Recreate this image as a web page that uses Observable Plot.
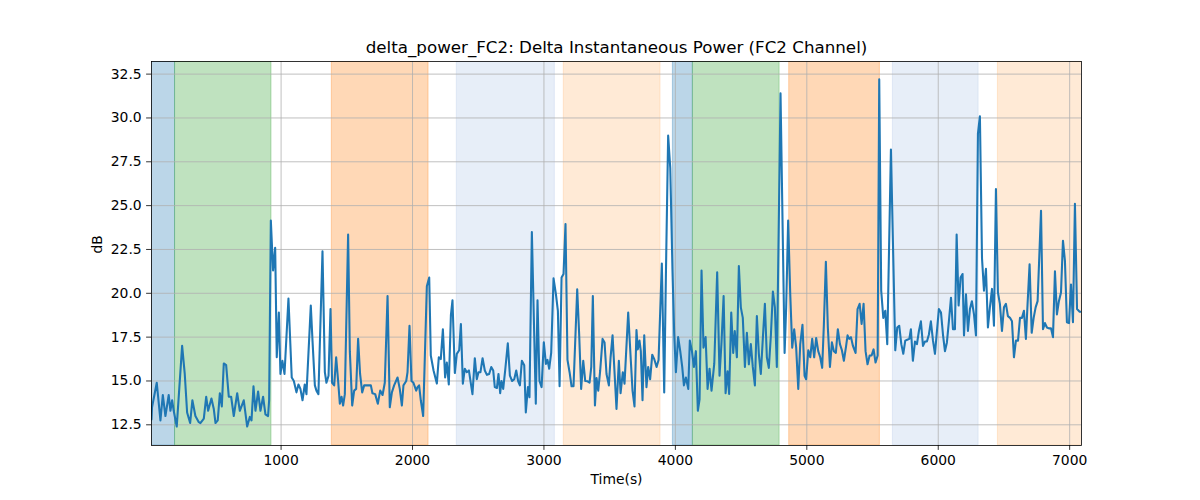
<!DOCTYPE html>
<html>
<head>
<meta charset="utf-8">
<script src="https://cdn.jsdelivr.net/npm/d3@7"></script>
<script src="https://cdn.jsdelivr.net/npm/@observablehq/plot@0.6"></script>
<style>
  html, body { margin: 0; padding: 0; background: white; }
  #chart { width: 1200px; height: 500px; }
</style>
</head>
<body>
<div id="chart"></div>
<script>
const titleText = "delta_power_FC2: Delta Instantaneous Power (FC2 Channel)";
const xLabel = "Time(s)";
const yLabel = "dB";
const xTicks = [1000, 2000, 3000, 4000, 5000, 6000, 7000];
const yTicks = [12.5, 15.0, 17.5, 20.0, 22.5, 25.0, 27.5, 30.0, 32.5];

const spanStarts = [0, 193, 1386, 2337, 3151, 3981, 4133, 4866, 5655, 6454];
const spanEnds   = [193, 927, 2122, 3083, 3887, 4133, 4793, 5556, 6307, 7100];
const spanColors = ["#1f77b4", "#2ca02c", "#ff7f0e", "#aec7e8", "#ffbb78",
                    "#1f77b4", "#2ca02c", "#ff7f0e", "#aec7e8", "#ffbb78"];

const times = [
  14, 18, 54, 82, 100, 120, 145, 158, 171, 183, 206, 247, 267, 285, 308, 325, 348, 374, 386, 412,
  430, 445, 470, 488, 501, 518, 534, 549, 564, 582, 602, 620, 640, 666, 686, 716, 742, 762, 775, 790,
  805, 825, 843, 863, 881, 901,
  909, 922, 939, 955, 967, 983, 995, 1010, 1026, 1056, 1081, 1097, 1117, 1132, 1147, 1163, 1180, 1193,
  1226, 1239, 1257, 1269, 1284, 1315, 1333, 1345, 1361, 1376, 1388, 1404, 1419, 1434, 1447, 1460, 1472,
  1485, 1510, 1523, 1541, 1556, 1571, 1586, 1601, 1617, 1632, 1657, 1683, 1695, 1716, 1736, 1754,
  1772, 1789, 1810, 1827, 1843, 1860, 1886, 1903, 1919, 1931, 1952, 1962, 1977, 1992, 2007, 2028, 2038,
  2050, 2063, 2081, 2109, 2127, 2139, 2160, 2185, 2200, 2215, 2231, 2248, 2261, 2276, 2292, 2304, 2322,
  2337, 2355, 2368, 2383, 2398, 2413, 2429, 2444, 2456, 2474, 2489, 2502, 2517, 2533, 2550, 2566, 2583,
  2599, 2614, 2626, 2642, 2654, 2667,
  2677, 2690, 2705, 2725, 2741, 2758, 2774, 2789, 2804, 2817, 2832, 2850, 2862, 2878, 2890, 2908, 2938,
  2951, 2966, 2982, 2999, 3015, 3027, 3040, 3055, 3073, 3091, 3106, 3119, 3134, 3149, 3164, 3179, 3195,
  3210, 3225, 3253, 3268, 3283, 3299, 3314, 3332, 3347, 3360, 3372, 3388, 3400, 3413, 3428, 3446, 3461,
  3476, 3494, 3507, 3522,
  3552, 3570, 3583, 3600, 3613, 3641, 3661, 3674, 3689, 3704, 3714, 3727, 3737, 3750, 3763, 3780, 3793,
  3808, 3824, 3839, 3857, 3872, 3897, 3915, 3928, 3945, 3961, 3978, 3991, 4004, 4021, 4037, 4052, 4065,
  4080, 4098, 4110, 4126, 4141, 4156, 4171, 4184, 4199, 4214, 4230, 4245, 4260, 4275, 4296, 4318, 4336,
  4351, 4367, 4382, 4397, 4409,
  4425, 4440, 4452, 4468, 4483, 4498, 4513, 4529, 4544, 4559, 4574, 4589, 4605, 4620, 4635, 4650, 4666,
  4681, 4696, 4711, 4727, 4742, 4757, 4772, 4800, 4831, 4843, 4858, 4874, 4889, 4904, 4919, 4935, 4950,
  4967, 4983, 4995, 5011, 5026, 5041, 5056, 5071, 5087, 5102, 5117, 5130, 5145, 5160, 5176, 5191, 5206,
  5221, 5236, 5252, 5267, 5282,
  5298, 5310, 5323, 5336, 5351, 5371, 5386, 5402, 5417, 5432, 5447, 5462, 5478, 5493, 5508, 5523, 5539,
  5551, 5566, 5582, 5597, 5612, 5640, 5673, 5688, 5703, 5719, 5734, 5749, 5764, 5780, 5792, 5807, 5823,
  5838, 5853, 5868, 5884, 5899, 5914, 5929, 5944, 5960, 5975, 5990, 6005, 6021, 6036, 6051, 6066, 6081,
  6097, 6112, 6127, 6140, 6155, 6170,
  6185, 6196, 6211, 6226, 6241, 6256, 6272, 6287, 6302, 6317, 6333, 6348, 6363, 6378, 6393, 6409, 6424,
  6439, 6454, 6469, 6485, 6500, 6515, 6530, 6546, 6561, 6576, 6591, 6607, 6622, 6637, 6652, 6667, 6680,
  6695, 6711, 6726, 6741, 6756, 6782, 6797, 6812, 6827, 6842, 6858, 6873, 6888, 6903, 6918, 6934, 6949,
  6964, 6979, 6995, 7010, 7025, 7040, 7056, 7076, 7090
];

const values = [
  12.8, 13.5, 14.9, 12.75, 14.2, 13.0, 14.2, 13.3, 13.9, 13.3, 12.4, 17.0, 15.4, 13.2, 12.6, 13.9, 13.0, 12.65, 12.6, 12.85,
  14.1, 13.3, 14.0, 13.4, 12.6, 12.75, 14.3, 13.55, 16.0, 15.9, 14.1, 14.1, 13.0, 14.3, 13.3, 13.9, 12.4, 12.95, 12.75, 14.7,
  13.3, 14.4, 13.3, 14.1, 13.1, 13.0,
  13.9, 24.15, 21.3, 22.6, 16.35, 18.9, 15.4, 16.15, 15.4, 19.7, 15.2, 15.0, 14.35, 14.8, 14.55, 13.9, 14.8, 14.25,
  19.3, 17.3, 14.75, 14.45, 14.25, 22.4, 15.5, 14.9, 15.3, 19.1, 14.9, 14.75, 16.35, 15.0, 13.7, 14.1, 13.6,
  14.25, 23.35, 16.7, 13.6, 14.45, 14.55, 17.4, 15.4, 14.35, 14.75, 14.75, 14.75, 14.3, 14.25, 13.7, 14.45,
  14.2, 14.9, 19.85, 13.5, 14.35, 14.75, 15.2, 14.55, 13.6, 14.75, 15.0, 15.5, 18.15, 15.0, 14.9, 14.45, 14.65,
  14.75, 13.9, 13.0, 20.4, 20.9, 16.45, 15.6, 14.85, 16.35, 16.25, 17.95, 15.2, 16.05, 14.8, 18.75, 19.6, 15.45,
  16.55, 16.75, 18.25, 14.85, 15.7, 15.5, 15.6, 14.85, 14.25, 16.3, 15.1, 15.5, 15.5, 16.3, 15.6, 15.35, 15.4,
  15.8, 15.6, 14.65, 14.6, 15.4, 14.3,
  15.0, 14.55, 15.6, 17.15, 15.3, 15.0, 15.1, 15.6, 14.98, 14.75, 16.15, 15.9, 13.2, 14.65, 14.07, 23.5, 13.7,
  19.6, 15.0, 14.65, 17.2, 15.97, 16.2, 15.7, 16.6, 20.85, 19.95, 19.0, 14.7, 20.9, 21.1, 23.95, 16.2, 15.5,
  14.7, 14.7, 20.23, 17.65, 14.55, 16.15, 15.0, 14.98, 14.9, 15.8, 19.85, 13.6, 15.17, 14.45, 15.6, 17.4, 17.2,
  15.4, 14.75, 16.35, 17.6,
  13.4, 16.15, 14.3, 15.5, 14.85, 18.9, 16.15, 14.45, 13.55, 17.9, 16.8, 17.3, 16.7, 13.9, 17.6, 14.65, 15.8,
  15.1, 16.5, 16.25, 15.8, 16.2, 21.7, 14.35, 21.1, 29.0, 27.15, 21.3, 17.7, 15.5, 17.5, 16.7, 15.8, 14.75,
  15.2, 14.55, 17.3, 16.7, 15.8, 16.7, 13.3, 13.95, 21.3, 16.9, 17.5, 14.55, 15.7, 14.45, 16.0, 21.2, 15.3,
  17.2, 19.85, 14.3, 15.55, 14.26,
  18.9, 16.6, 17.85, 16.35, 21.55, 19.2, 18.6, 15.8, 17.75, 15.95, 17.1, 15.8, 14.75, 18.7, 16.55, 15.4, 17.5,
  19.4, 16.35, 15.75, 17.65, 20.1, 19.2, 15.8, 31.4, 16.6, 19.2, 24.15, 19.95, 16.9, 17.95, 16.9, 14.55, 17.1,
  18.2, 15.3, 15.1, 16.75, 16.35, 17.4, 16.35, 17.45, 16.7, 16.35, 15.75, 18.25, 21.8, 18.05, 15.8, 17.2, 16.7,
  16.6, 17.95, 17.1, 16.75, 16.15,
  16.95, 17.6, 17.4, 17.5, 17.0, 16.6, 19.1, 19.4, 18.25, 19.4, 16.7, 15.95, 16.45, 16.45, 16.8, 16.05, 16.45,
  32.2, 20.15, 18.6, 19.0, 17.1, 28.2, 16.75, 18.05, 18.15, 17.1, 16.55, 17.3, 17.35, 17.4, 17.95, 16.15, 17.25,
  17.1, 17.85, 18.4, 17.0, 17.25, 17.25, 17.65, 18.4, 17.3, 16.55, 17.85, 19.1, 18.9, 17.65, 16.7, 17.2, 18.4,
  19.75, 17.95, 17.95, 23.35, 19.3, 20.9,
  21.1, 17.6, 19.95, 17.85, 19.1, 19.55, 18.8, 17.6, 29.1, 30.1, 22.0, 20.15, 21.4, 18.05, 19.2, 20.25, 18.15,
  25.95, 20.05, 19.4, 17.85, 19.2, 19.4, 18.7, 18.6, 18.4, 16.35, 17.3, 17.3, 18.6, 18.6, 19.0, 17.4, 19.45,
  21.65, 17.75, 18.6, 19.2, 19.55, 24.7, 17.95, 18.3, 18.05, 18.0, 18.0, 17.5, 21.25, 18.8, 19.55, 20.05, 23.0,
  21.85, 18.35, 18.3, 20.5, 18.35, 25.1, 19.1, 18.95, 18.95
];

const series = times.map((t, i) => ({t, v: values[i]}));
const spans = spanStarts.map((s, i) => ({s, e: spanEnds[i], c: spanColors[i]}));

const chart = Plot.plot({
  width: 1200,
  height: 500,
  marginLeft: 151,
  marginRight: 119,
  marginTop: 61,
  marginBottom: 55,
  style: {fontFamily: "DejaVu Sans", fontSize: "13.9px", color: "black", background: "white", overflow: "visible"},
  x: {domain: [14, 7090]},
  y: {domain: [11.32, 33.22]},
  color: {type: "identity"},
  marks: [
    Plot.rect(spans, {x1: "s", x2: "e", fill: "c", fillOpacity: 0.3, stroke: "c", strokeOpacity: 0.3, strokeWidth: 1, clip: true}),
    Plot.gridX({ticks: xTicks, stroke: "#b0b0b0", strokeOpacity: 1, strokeWidth: 0.8}),
    Plot.gridY({ticks: yTicks, stroke: "#b0b0b0", strokeOpacity: 1, strokeWidth: 0.8}),
    Plot.line(series, {x: "t", y: "v", stroke: "#1f77b4", strokeWidth: 2.08, clip: true}),
    Plot.frame({stroke: "black", strokeWidth: 0.8}),
    Plot.axisX({ticks: xTicks, tickSize: 4.9, tickPadding: 4.9, tickFormat: d3.format("d"), label: null, strokeWidth: 0.8}),
    Plot.axisY({ticks: yTicks, tickSize: 4.9, tickPadding: 4.9, tickFormat: d3.format(".1f"), label: null, strokeWidth: 0.8}),
    Plot.text([titleText], {text: d => d, frameAnchor: "top", dy: -20, fontSize: 16.7, fill: "black"}),
    Plot.text([xLabel], {text: d => d, frameAnchor: "bottom", dy: 38, fill: "black"}),
    Plot.text([yLabel], {text: d => d, frameAnchor: "left", dx: -54, rotate: -90, fill: "black"})
  ]
});
document.getElementById("chart").appendChild(chart);
</script>
</body>
</html>
